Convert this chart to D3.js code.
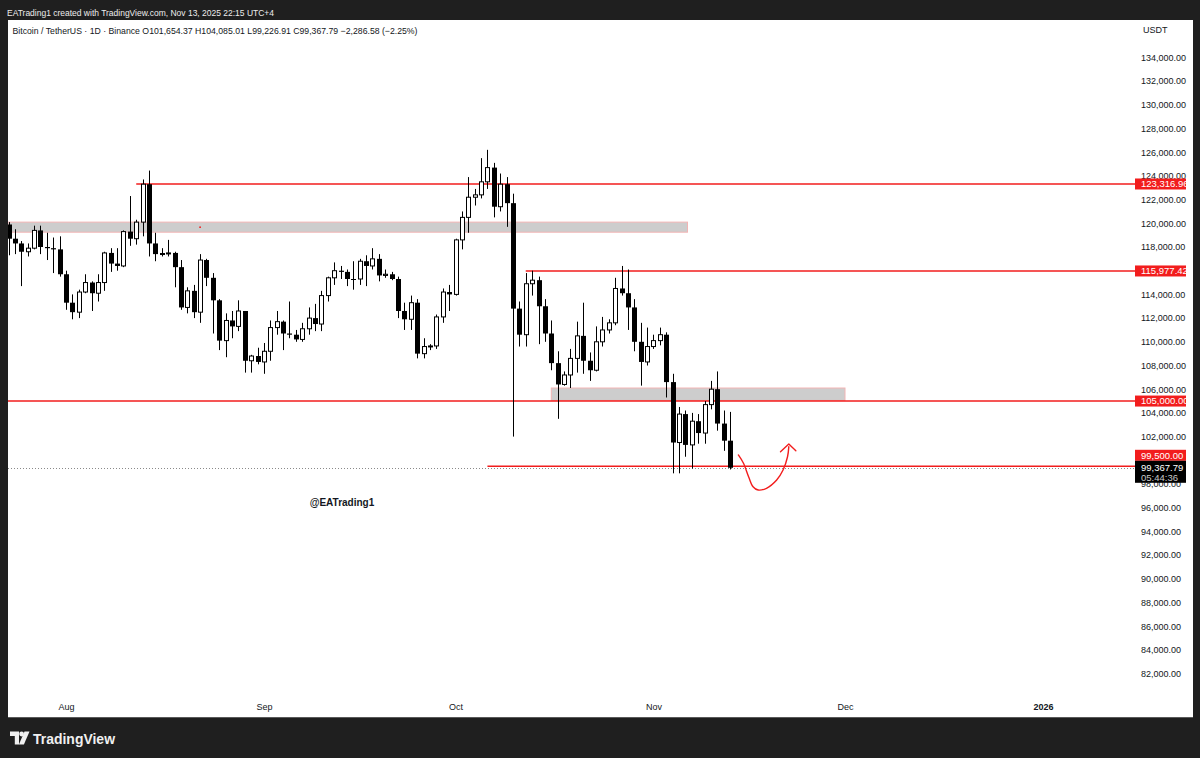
<!DOCTYPE html>
<html><head><meta charset="utf-8">
<script src="https://cdn.jsdelivr.net/npm/d3@7"></script>
<style>html,body{margin:0;padding:0;background:#1f1f1f;} svg{display:block}</style>
</head><body>
<svg id="c" width="1200" height="758"></svg>
<script>
// ---------- DATA ----------
const dates = [
"2025-07-23","2025-07-24","2025-07-25","2025-07-26","2025-07-27","2025-07-28","2025-07-29","2025-07-30","2025-07-31",
"2025-08-01","2025-08-02","2025-08-03","2025-08-04","2025-08-05","2025-08-06","2025-08-07","2025-08-08","2025-08-09","2025-08-10",
"2025-08-11","2025-08-12","2025-08-13","2025-08-14","2025-08-15","2025-08-16","2025-08-17","2025-08-18","2025-08-19","2025-08-20",
"2025-08-21","2025-08-22","2025-08-23","2025-08-24","2025-08-25","2025-08-26","2025-08-27","2025-08-28","2025-08-29","2025-08-30","2025-08-31",
"2025-09-01","2025-09-02","2025-09-03","2025-09-04","2025-09-05","2025-09-06","2025-09-07","2025-09-08","2025-09-09","2025-09-10",
"2025-09-11","2025-09-12","2025-09-13","2025-09-14","2025-09-15","2025-09-16","2025-09-17","2025-09-18","2025-09-19","2025-09-20",
"2025-09-21","2025-09-22","2025-09-23","2025-09-24","2025-09-25","2025-09-26","2025-09-27","2025-09-28","2025-09-29","2025-09-30",
"2025-10-01","2025-10-02","2025-10-03","2025-10-04","2025-10-05","2025-10-06","2025-10-07","2025-10-08","2025-10-09","2025-10-10",
"2025-10-11","2025-10-12","2025-10-13","2025-10-14","2025-10-15","2025-10-16","2025-10-17","2025-10-18","2025-10-19","2025-10-20",
"2025-10-21","2025-10-22","2025-10-23","2025-10-24","2025-10-25","2025-10-26","2025-10-27","2025-10-28","2025-10-29","2025-10-30","2025-10-31",
"2025-11-01","2025-11-02","2025-11-03","2025-11-04","2025-11-05","2025-11-06","2025-11-07","2025-11-08","2025-11-09","2025-11-10",
"2025-11-11","2025-11-12","2025-11-13"];

const openP = [
119900,118700,118300,117600,117900,119400,118000,117900,117800,
115700,113300,112500,114200,115000,114100,115000,117500,116600,116400,
119300,118700,120100,123300,118300,117400,117450,117500,116300,112900,
114300,112500,116900,115400,113500,110100,111800,111300,112600,108400,108800,
108300,109200,111200,111700,110700,110600,110200,111100,112000,111500,
113900,115400,116000,115900,115300,115300,116800,116400,117000,115600,
115700,115300,112600,111900,113300,109000,109600,109650,112100,114200,
114000,118600,120500,122200,122400,123500,124700,121400,123300,121700,
112800,110600,114900,115200,113000,110700,108200,106400,107200,108600,
110500,108400,107600,110000,111000,111600,114500,114100,112900,110000,108300,
109600,110100,110600,106600,101500,103900,101300,103300,102300,104700,
106000,103100,101654.37];

const highP = [
120100,119500,118500,118300,119800,119800,119200,118800,118900,
116000,114000,114400,115700,115100,115700,117600,117900,117900,119400,
122300,120300,123700,124450,119200,117900,118600,117600,116900,114600,
114800,117400,117000,115800,113600,112400,112600,113500,112600,108900,109500,
109900,111800,112600,111800,113400,111000,111600,112900,113200,114300,
115500,116700,116400,116100,116800,117000,117300,117900,117400,116100,
115900,115500,113300,113900,113600,110300,109800,112300,114500,114800,
118700,121000,123900,122900,125500,126200,125100,124200,123900,122500,
113400,115800,116000,115500,113600,111800,109200,107500,109400,111700,
113300,109100,111300,112100,111900,115400,116400,116100,113600,111600,111200,
110600,111200,110800,107300,104500,104200,104000,103900,105000,106700,
107500,104200,104085.01];

const lowP = [
117300,117400,114700,117200,117800,117400,116900,115800,115500,
112700,111900,112000,114100,112600,113400,114300,115900,116000,116300,
118100,118200,118900,117200,116800,117200,117200,114600,112700,112400,
112000,111600,114700,110700,109300,108700,110300,110900,107400,107400,108100,
107300,108400,110600,109300,110300,110000,110000,110600,110900,110900,
113400,114800,115300,114700,114400,114800,114700,116100,115100,115400,
115200,112000,111000,111000,108600,108600,109300,109400,111600,112600,
113900,117800,119200,121500,122100,122900,120500,121000,119700,102000,
109600,109600,113900,109800,110000,107600,103500,106300,106100,107400,
107300,106700,107500,109600,110700,111400,113900,111000,109200,106300,108000,
109400,109700,105300,98900,98900,100300,99300,101400,101400,104300,
102500,100800,99226.91];

const closeP = [
118700,118300,117600,117900,119400,118000,117900,117800,115700,
113300,112500,114200,115000,114100,115000,117500,116600,116400,119300,
118700,120100,123300,118300,117400,117450,117500,116300,112900,114300,
112500,116900,115400,113500,110100,111800,111300,112600,108400,108800,108300,
109200,111200,111700,110700,110600,110200,111100,112000,111500,113900,
115400,116000,115900,115300,115250,116800,116400,117000,115600,115700,
115300,112600,111900,113300,109000,109600,109650,112100,114200,114000,
118600,120500,122200,122400,123500,124700,121400,123300,121700,112800,
110600,114900,115200,113000,110700,108200,106400,107200,108600,110500,
108400,107600,110000,111000,111600,114500,114100,112900,110000,108300,109600,
110100,110600,106600,101500,103900,101300,103300,102300,104700,106000,
103100,101654.37,99367.79];

// 100,000 is hidden behind the 99,500 label in the reference
const priceTicks = [134000,132000,130000,128000,126000,124000,122000,120000,118000,116000,114000,112000,110000,108000,106000,104000,102000,98000,96000,94000,92000,90000,88000,86000,84000,82000];
const timeTicks = ["2025-08-01","2025-09-01","2025-10-01","2025-11-01","2025-12-01","2026-01-01"];
const timeTickLabels = ["Aug","Sep","Oct","Nov","Dec","2026"];

// horizontal levels (null start = from left edge)
const levelPrices = [123316.96, 115977.42, 105000, 99500];
const levelStarts = ["2025-08-12", "2025-10-12", null, "2025-10-06"];
// zones
const zoneTops = [120100, 106100];
const zoneBottoms = [119250, 105050];
const zoneStarts = [null, "2025-10-16"];
const zoneEnds = ["2025-11-06T08:00", "2025-12-01"];
// current price
const lastPrice = 99367.79;
const countdown = "05:44:36";
// hand-drawn arrow, in days after Aug 1 and price
const arrowDays = [105.3,106.1,106.9,107.6,108.4,109.7,111.3,112.3,113.0,113.2];
const arrowPrices = [100450,99750,98620,97770,97490,97640,98340,99180,100300,101150];
const headDays = [111.9,113.2,114.3];
const headPrices = [100730,101380,100810];

// ---------- SETUP ----------
const parse = s => new Date(s.length > 10 ? s + "Z" : s + "T00:00Z");
const svg = d3.select("#c");
const plot = {l: 8, t: 20, r: 1135, b: 697};
const x = d3.scaleUtc().domain([parse("2025-08-01"), parse("2025-12-01")]).range([66, 845]);
const y = d3.scaleLinear().domain([82000, 134000]).range([673.6, 57.4]);
const aug1 = parse("2025-08-01").getTime();
const xd = d => x(new Date(aug1 + d * 864e5));
const FONT = "'Liberation Sans', Arial, sans-serif";
const RED = "#f21d1d";
const TXT = "#131722";

// frame
svg.append("rect").attr("width", 1200).attr("height", 758).attr("fill", "#1f1f1f");
svg.append("rect").attr("x", 8).attr("y", 20).attr("width", 1185).attr("height", 697).attr("fill", "#ffffff");
svg.append("line").attr("x1", 8).attr("x2", 1193).attr("y1", 717.5).attr("y2", 717.5).attr("stroke", "#5a5a5a");

svg.append("text").attr("x", 7).attr("y", 15.5).attr("fill", "#ececec")
  .style("font", `9px ${FONT}`).attr("textLength", 267).attr("lengthAdjust", "spacingAndGlyphs")
  .text("EATrading1 created with TradingView.com, Nov 13, 2025 22:15 UTC+4");

const defs = svg.append("defs");
defs.append("clipPath").attr("id", "plotclip").append("rect")
  .attr("x", plot.l).attr("y", plot.t).attr("width", plot.r - plot.l).attr("height", plot.b - plot.t);
defs.append("clipPath").attr("id", "lblclip").append("rect")
  .attr("x", 1130).attr("y", 20).attr("width", 56).attr("height", 680);

const g = svg.append("g").attr("clip-path", "url(#plotclip)");

// zones
zoneTops.forEach((t, i) => {
  const x0 = zoneStarts[i] ? x(parse(zoneStarts[i])) : plot.l;
  const x1 = x(parse(zoneEnds[i]));
  const y0 = y(t), y1 = y(zoneBottoms[i]);
  g.append("rect").attr("x", x0).attr("y", y0).attr("width", x1 - x0).attr("height", y1 - y0)
    .attr("fill", "#cdcdcd").attr("stroke", "#f2b4b4").attr("stroke-width", 1);
});
// small red anchor dot in zone 1
g.append("circle").attr("cx", x(parse("2025-08-22"))).attr("cy", y((zoneTops[0] + zoneBottoms[0]) / 2))
  .attr("r", 0.9).attr("fill", RED);

// current price dotted line
g.append("line").attr("x1", plot.l).attr("x2", plot.r)
  .attr("y1", Math.round(y(lastPrice)) + 0.5).attr("y2", Math.round(y(lastPrice)) + 0.5)
  .attr("stroke", "#8a8a8a").attr("stroke-width", 1).attr("stroke-dasharray", "1,2");

// levels
levelPrices.forEach((p, i) => {
  const x0 = levelStarts[i] ? x(parse(levelStarts[i])) : plot.l;
  g.append("line").attr("x1", x0).attr("x2", plot.r).attr("y1", y(p)).attr("y2", y(p))
    .attr("stroke", RED).attr("stroke-width", 1.5);
});

// candles
const candles = dates.map((d, i) => ({d: parse(d), o: openP[i], h: highP[i], l: lowP[i], c: closeP[i]}));
const cg = g.append("g");
candles.forEach(k => {
  const cx = Math.round(x(k.d));
  cg.append("line").attr("x1", cx + 0.5).attr("x2", cx + 0.5).attr("y1", y(k.h)).attr("y2", y(k.l))
    .attr("stroke", "#000").attr("stroke-width", 1);
  const top = y(Math.max(k.o, k.c)), bot = y(Math.min(k.o, k.c));
  if (k.c >= k.o) {
    cg.append("rect").attr("x", cx - 1.5).attr("y", top).attr("width", 4).attr("height", Math.max(bot - top, 1))
      .attr("fill", "#fff").attr("stroke", "#000").attr("stroke-width", 1);
  } else {
    cg.append("rect").attr("x", cx - 2).attr("y", top).attr("width", 5).attr("height", Math.max(bot - top, 1))
      .attr("fill", "#000");
  }
});

// arrow drawing
const line = d3.line().x(d => xd(d[0])).y(d => y(d[1])).curve(d3.curveCatmullRom);
g.append("path").attr("d", line(arrowDays.map((d, i) => [d, arrowPrices[i]])))
  .attr("fill", "none").attr("stroke", RED).attr("stroke-width", 1.4).attr("stroke-linecap", "round");
g.append("path").attr("d", d3.line().x(d => xd(d[0])).y(d => y(d[1]))(headDays.map((d, i) => [d, headPrices[i]])))
  .attr("fill", "none").attr("stroke", RED).attr("stroke-width", 1.4).attr("stroke-linecap", "round").attr("stroke-linejoin", "round");

// watermark
svg.append("text").attr("x", 342).attr("y", 506).attr("text-anchor", "middle")
  .style("font", `bold 10px ${FONT}`).attr("fill", "#131722").text("@EATrading1");

// legend
svg.append("text").attr("x", 12.5).attr("y", 33.5).attr("fill", TXT)
  .style("font", `9px ${FONT}`).attr("textLength", 405).attr("lengthAdjust", "spacingAndGlyphs")
  .text("Bitcoin / TetherUS · 1D · Binance  O101,654.37  H104,085.01  L99,226.91  C99,367.79  −2,286.58 (−2.25%)");

// price axis
const fmt = d3.format(",.2f");
const ya = svg.append("g").attr("transform", "translate(1141,0)")
  .call(d3.axisRight(y).tickValues(priceTicks).tickFormat(fmt).tickSize(0).tickPadding(0));
ya.select(".domain").remove();
ya.selectAll("text").style("font", `9px ${FONT}`).attr("fill", TXT);

svg.append("text").attr("x", 1143).attr("y", 33).style("font", `9px ${FONT}`).attr("fill", TXT).text("USDT");

// time axis
const tDates = timeTicks.map(parse);
const xa = svg.append("g").attr("transform", "translate(0,704)")
  .call(d3.axisBottom(x).tickValues(tDates).tickFormat((d, i) => timeTickLabels[i]).tickSize(0).tickPadding(0));
xa.select(".domain").remove();
xa.selectAll("text").style("font", `9px ${FONT}`).attr("fill", TXT)
  .style("font-weight", (d, i) => timeTickLabels[i] === "2026" ? "bold" : "normal");

// price labels on axis
const lg = svg.append("g").attr("clip-path", "url(#lblclip)");
function priceBox(p, cy, fill, txtCol) {
  lg.append("rect").attr("x", 1135).attr("y", cy - 5.5).attr("width", 51).attr("height", 11).attr("fill", fill);
  lg.append("text").attr("x", 1141).attr("y", cy).attr("dy", "0.34em").style("font", `9.5px ${FONT}`)
    .attr("fill", txtCol).text(fmt(p));
}
const lastY = y(lastPrice);
levelPrices.forEach(p => {
  let cy = y(p);
  if (Math.abs(cy - lastY) < 15) cy = lastY - 12.5;
  priceBox(p, cy, RED, "#ffffff");
});
// last price label (black)
lg.append("rect").attr("x", 1135).attr("y", lastY - 7).attr("width", 51).attr("height", 22).attr("fill", "#000");
lg.append("text").attr("x", 1141).attr("y", lastY).attr("dy", "0.34em").style("font", `9.5px ${FONT}`)
  .attr("fill", "#fff").text(fmt(lastPrice));
lg.append("text").attr("x", 1141).attr("y", lastY + 10).attr("dy", "0.34em").style("font", `9.5px ${FONT}`)
  .attr("fill", "#c8c8c8").text(countdown);

// TradingView logo
const logo = svg.append("g").attr("fill", "#f0f0f0");
logo.append("path").attr("d", "M10,731.5 h9 v13 h-4.2 v-8.6 h-4.8 z");
logo.append("circle").attr("cx", 21.6).attr("cy", 734).attr("r", 2.4);
logo.append("path").attr("d", "M24.5,731.5 h5 l-5.6,13 h-5 z");
svg.append("text").attr("x", 33).attr("y", 744).attr("fill", "#f0f0f0")
  .style("font", `600 15px ${FONT}`).attr("textLength", 82).attr("lengthAdjust", "spacingAndGlyphs")
  .text("TradingView");
</script>
</body></html>
